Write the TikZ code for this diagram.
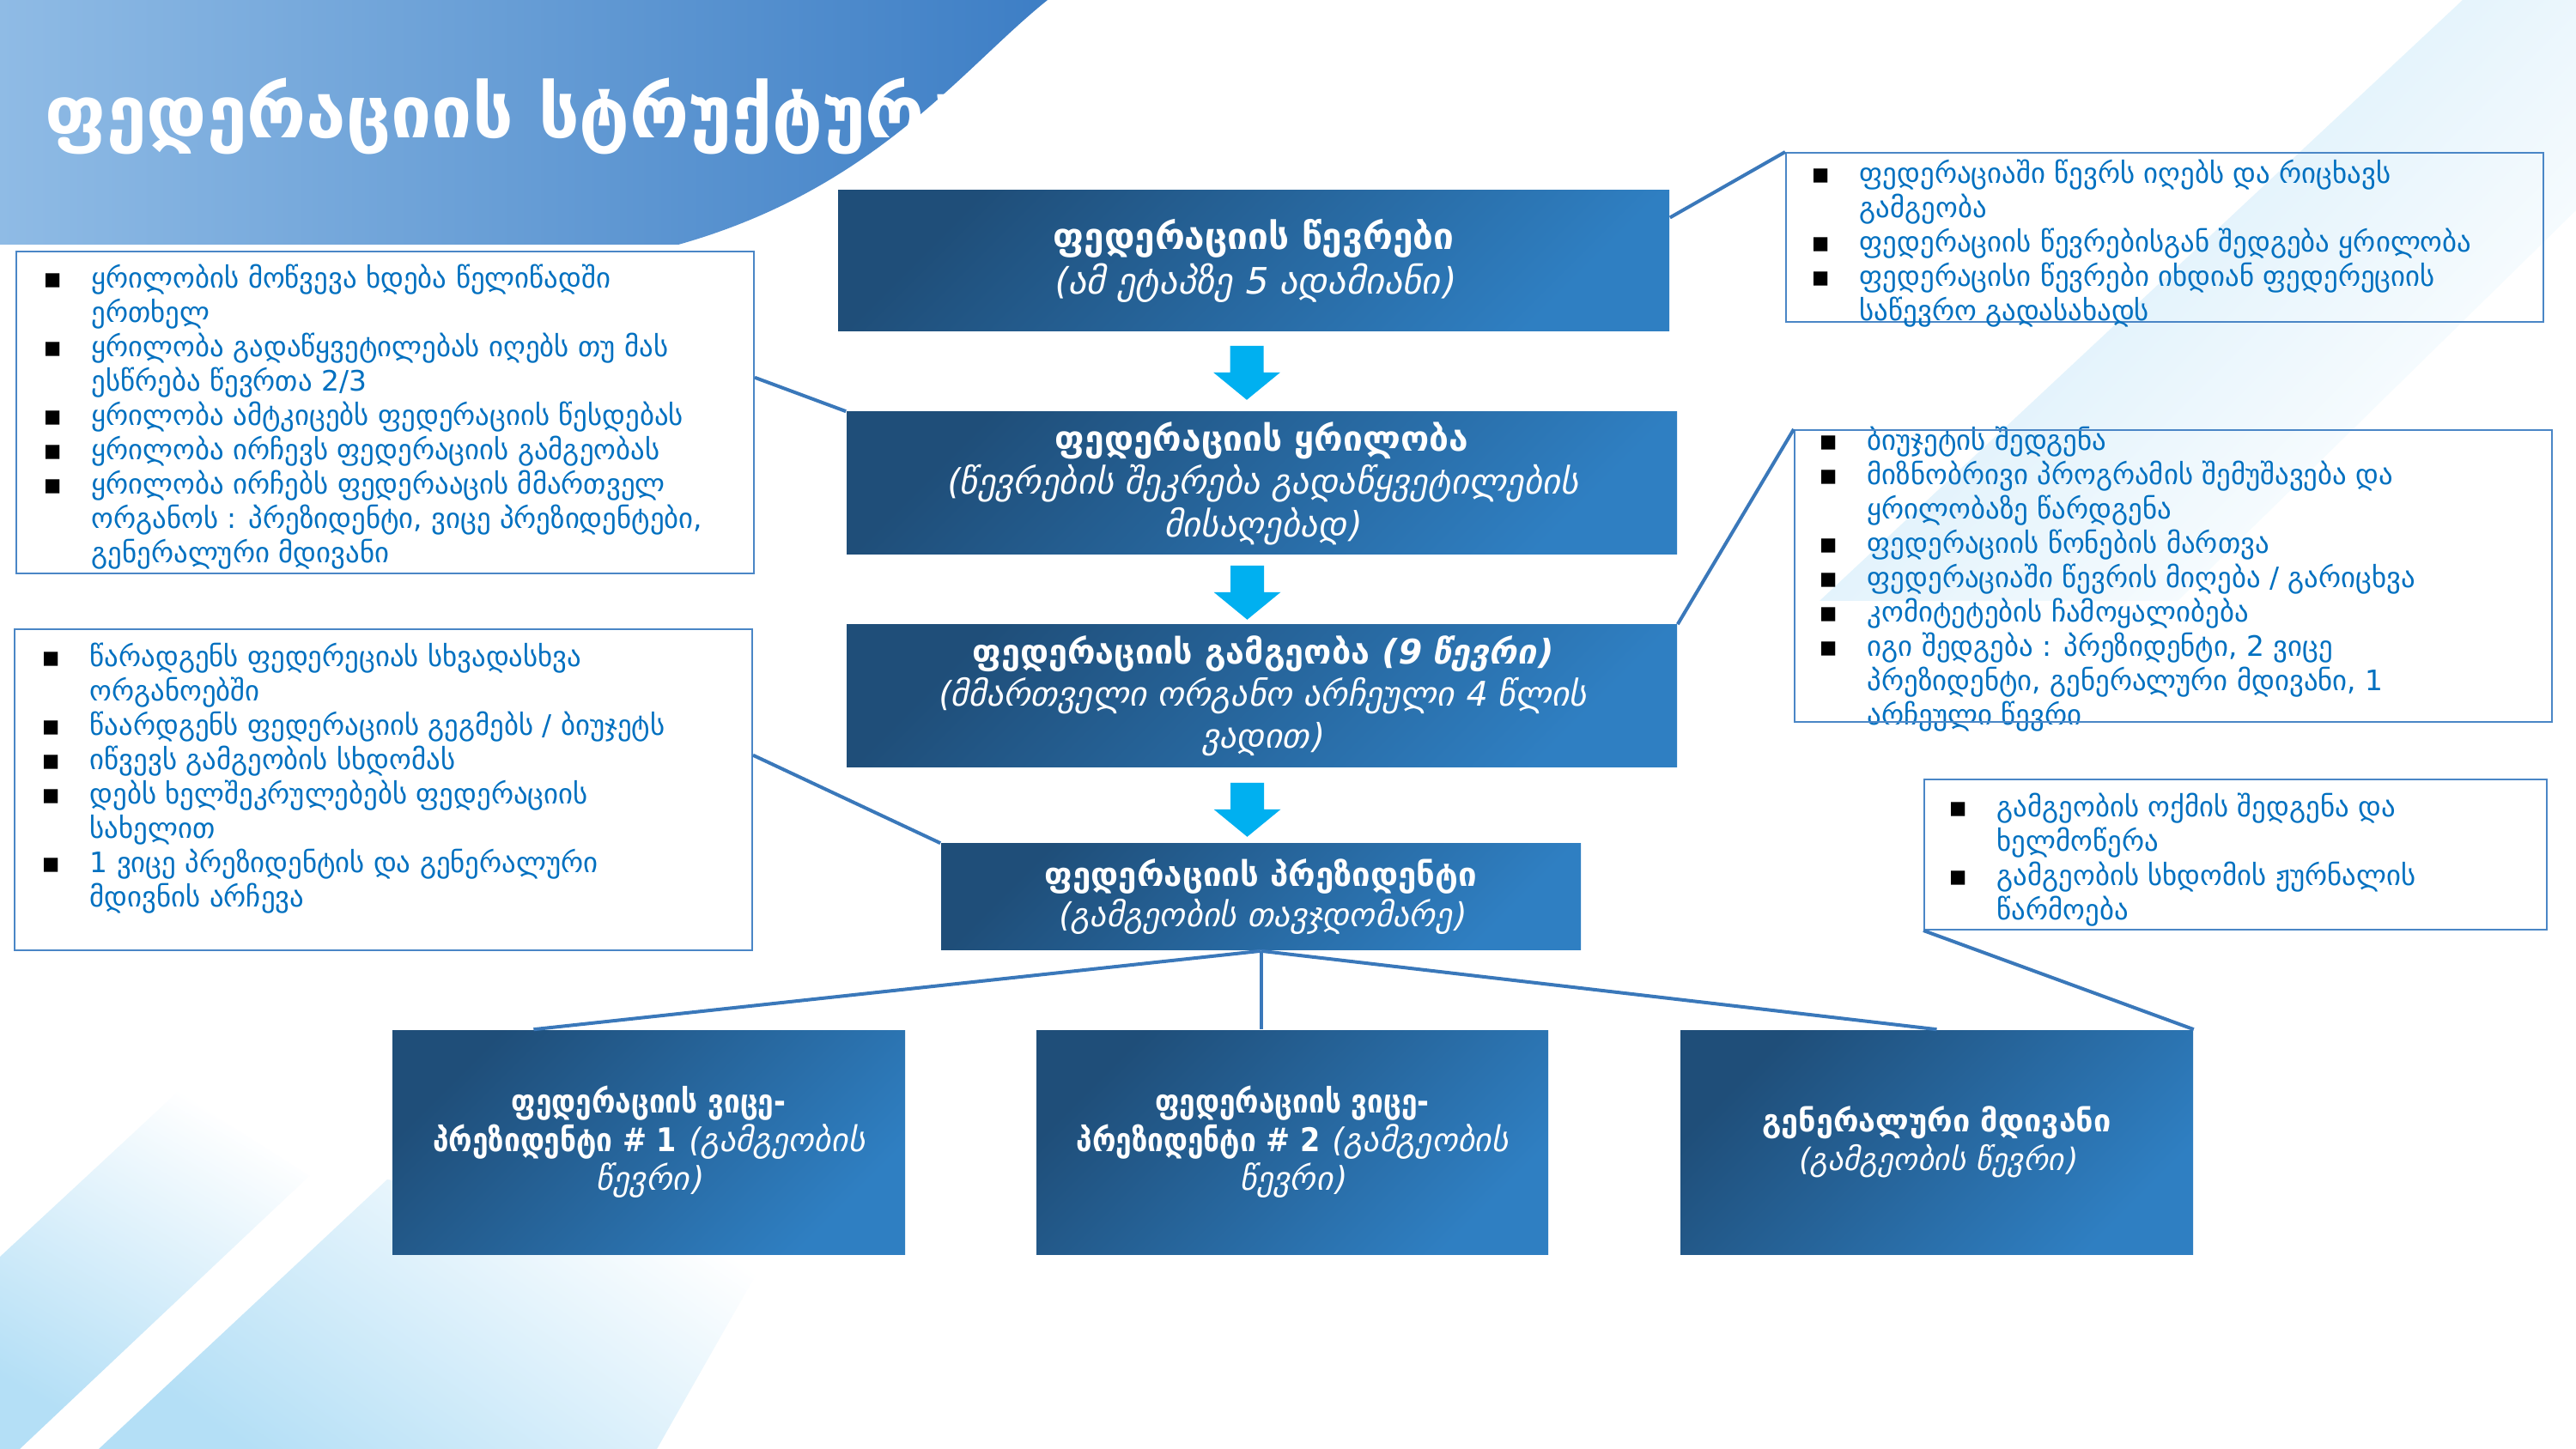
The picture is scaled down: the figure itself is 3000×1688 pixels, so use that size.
\documentclass[tikz,border=0pt]{standalone}
\usepackage{fontspec}
\usetikzlibrary{fit,calc}
\setmainfont{DejaVu Sans}
\newfontfamily\gR{DejaVu Sans}
\newfontfamily\gB{DejaVu Sans Bold}
\newfontfamily\gBc{DejaVu Sans Bold}[FakeStretch=0.88]
\newfontfamily\gI{DejaVu Sans}[FakeSlant=0.2]
\newfontfamily\gBI{DejaVu Sans Bold}[FakeSlant=0.2]
\definecolor{navy}{HTML}{1F4E79}
\definecolor{midblue}{HTML}{2F7FC2}
\definecolor{txtblue}{HTML}{0070C0}
\definecolor{framebl}{HTML}{4A86C6}
\definecolor{linkbl}{HTML}{3A78BA}
\definecolor{arrowcyan}{HTML}{00B0F0}
\definecolor{bandL}{HTML}{8FBBE5}
\definecolor{bandM}{HTML}{88C2EB}
\definecolor{bandR}{HTML}{3D7EC5}
\definecolor{pale}{HTML}{B4DFF6}
\definecolor{paletop}{HTML}{CFEAF9}
\newcommand\bul{\llap{\makebox[14pt][l]{\textcolor{black}{▪}}}}
\newcommand\blockarrow[1]{%
  \fill[arrowcyan] ($(#1)+(-19.5,0)$) -- ++(39,0) -- ++(0,31) -- ++(19.5,0)
    -- ++(-39,32) -- ++(-39,-32) -- ++(19.5,0) -- cycle;}
\tikzset{
  darkbox/.style={inner sep=0pt, draw=none, top color=navy, bottom color=midblue, shading angle=45},
  boxtxt/.style={text=white, align=center, inner sep=0pt},
  bulbox/.style={draw=framebl, line width=0.5pt, inner sep=0pt},
  bultxt/.style={text=txtblue, align=left, anchor=north west, inner sep=0pt, font=\gR\fontsize{8.2}{10}\selectfont},
  link/.style={draw=linkbl, line width=1pt},
}
\begin{document}
\begin{tikzpicture}[x=0.25pt,y=-0.25pt]
\useasboundingbox (0,0) rectangle (3000,1688);
\fill[white] (0,0) rectangle (3000,1688);
% background streaks
\shade[top color=paletop, bottom color=white, shading angle=45]
  (2868,0) -- (3000,0) -- (3000,245) -- (2536,700) -- (2119,700) -- cycle;
\shade[top color=white, bottom color=pale, shading angle=-30]
  (0,1464) -- (207,1272) -- (360,1370) -- (23,1688) -- (0,1688) -- cycle;
\shade[top color=white, bottom color=pale, shading angle=-35]
  (451,1374) -- (900,1450) -- (765,1688) -- (115,1688) -- cycle;
% title band
\shade[left color=bandL, middle color=bandM, right color=bandR]
  (0,0) -- (1220,0) .. controls (1120,80) and (1020,220) .. (790,285) -- (0,285) -- cycle;
\fill[white, opacity=0.5] (1240,0) -- (1330,0) .. controls (1250,100) and (1200,180) .. (1120,230) .. controls (1180,150) and (1210,80) .. cycle;
\node[anchor=west, text=white, font=\gB\fontsize{21}{24}\selectfont, inner sep=0pt] (title) at (52,135) {ფედერაციის სტრუქტურა};

% dark boxes
\node[darkbox, fit={(976,222)(1944,386)}] (b1) {};
\node[boxtxt, font=\fontsize{10.6}{13}\selectfont] (t1) at (b1.center) {{\gB ფედერაციის წევრები}\\{\gI (ამ ეტაპზე 5 ადამიანი)}};
\node[darkbox, fit={(986,480)(1953,646)}] (b2) {};
\node[boxtxt, font=\fontsize{10.2}{12.5}\selectfont] (t2) at (b2.center) {{\gB ფედერაციის ყრილობა}\\{\gI (წევრების შეკრება გადაწყვეტილების}\\{\gI მისაღებად)}};
\node[darkbox, fit={(986,728)(1953,894)}] (b3) {};
\node[boxtxt, font=\fontsize{9.9}{12.3}\selectfont] (t3) at (b3.center) {{\gB ფედერაციის გამგეობა} {\gBI (9 წევრი)}\\{\gI (მმართველი ორგანო არჩეული 4 წლის}\\{\gI ვადით)}};
\node[darkbox, fit={(1096,983)(1841,1107)}] (b4) {};
\node[boxtxt, font=\fontsize{9.6}{11.8}\selectfont] (t4) at (b4.center) {{\gB ფედერაციის პრეზიდენტი}\\{\gI (გამგეობის თავჯდომარე)}};
\node[darkbox, fit={(457,1200)(1054,1461)}] (b5) {};
\node[boxtxt, font=\fontsize{9.5}{11.3}\selectfont] (t5) at (b5.center) {{\gBc ფედერაციის ვიცე-}\\{\gBc პრეზიდენტი \# 1} {\gI (გამგეობის}\\{\gI წევრი)}};
\node[darkbox, fit={(1207,1200)(1803,1461)}] (b6) {};
\node[boxtxt, font=\fontsize{9.5}{11.3}\selectfont] (t6) at (b6.center) {{\gBc ფედერაციის ვიცე-}\\{\gBc პრეზიდენტი \# 2} {\gI (გამგეობის}\\{\gI წევრი)}};
\node[darkbox, fit={(1957,1200)(2554,1461)}] (b7) {};
\node[boxtxt, font=\fontsize{9}{11.3}\selectfont] (t7) at (b7.center) {{\gB გენერალური მდივანი}\\{\gI (გამგეობის წევრი)}};

% block arrows
\coordinate (a1) at ($(b1.south)+(-8,16)$);
\coordinate (a2) at ($(b2.south)+(-17,12)$);
\coordinate (a3) at ($(b3.south)+(-17,17)$);
\blockarrow{a1}
\blockarrow{a2}
\blockarrow{a3}

% bullet boxes
\node[bulbox, fit={(19,293)(878,668)}] (lb1) {};
\node[bultxt] (lt1) at (106,307) {\bul ყრილობის მოწვევა ხდება წელიწადში\\
ერთხელ\\
\bul ყრილობა გადაწყვეტილებას იღებს თუ მას\\
ესწრება წევრთა 2/3\\
\bul ყრილობა ამტკიცებს ფედერაციის წესდებას\\
\bul ყრილობა ირჩევს ფედერაციის გამგეობას\\
\bul ყრილობა ირჩებს ფედერააცის მმართველ\\
ორგანოს : პრეზიდენტი, ვიცე პრეზიდენტები,\\
გენერალური მდივანი};

\node[bulbox, fit={(17,733)(876,1107)}] (lb2) {};
\node[bultxt] (lt2) at (104,748) {\bul წარადგენს ფედერეციას სხვადასხვა\\
ორგანოებში\\
\bul წაარდგენს ფედერაციის გეგმებს / ბიუჯეტს\\
\bul იწვევს გამგეობის სხდომას\\
\bul დებს ხელშეკრულებებს ფედერაციის\\
სახელით\\
\bul 1 ვიცე პრეზიდენტის და გენერალური\\
მდივნის არჩევა};

\node[bulbox, fit={(2080,178)(2962,375)}] (rb1) {};
\node[bultxt] (rt1) at (2165,185) {\bul ფედერაციაში წევრს იღებს და რიცხავს\\
გამგეობა\\
\bul ფედერაციის წევრებისგან შედგება ყრილობა\\
\bul ფედერაცისი წევრები იხდიან ფედერეციის\\
საწევრო გადასახადს};

\node[bultxt] (rt2) at (2174,496) {\bul ბიუჯეტის შედგენა\\
\bul მიზნობრივი პროგრამის შემუშავება და\\
ყრილობაზე წარდგენა\\
\bul ფედერაციის წონების მართვა\\
\bul ფედერაციაში წევრის მიღება / გარიცხვა\\
\bul კომიტეტების ჩამოყალიბება\\
\bul იგი შედგება : პრეზიდენტი, 2 ვიცე\\
პრეზიდენტი, გენერალური მდივანი, 1\\
არჩეული წევრი};
\node[bulbox, fit={(2090,501)(2972,841)}] (rb2) {};

\node[bulbox, fit={(2241,908)(2966,1083)}] (rb3) {};
\node[bultxt] (rt3) at (2325,923) {\bul გამგეობის ოქმის შედგენა და\\
ხელმოწერა\\
\bul გამგეობის სხდომის ჟურნალის\\
წარმოება};

% connectors
\draw[link] ($(lb1.north east)!0.392!(lb1.south east)$) -- (b2.north west);
\draw[link] ($(lb2.north east)!0.393!(lb2.south east)$) -- (b4.north west);
\draw[link] ($(b1.north east)!0.195!(b1.south east)$) -- (rb1.north west);
\draw[link] (b3.north east) -- (rb2.north west);
\draw[link] (rb3.south west) -- (b7.north east);
\draw[link] (b4.south) -- ($(b5.north west)!0.276!(b5.north east)$);
\draw[link] (b4.south) -- (b4.south |- b6.north);
\draw[link] (b4.south) -- (b7.north);
\end{tikzpicture}
\end{document}
